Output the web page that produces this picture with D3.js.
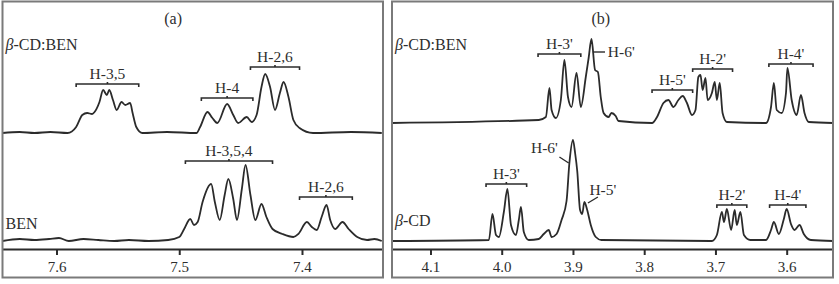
<!DOCTYPE html>
<html>
<head>
<meta charset="utf-8">
<script src="https://cdn.jsdelivr.net/npm/d3@7"></script>
<style>
  body { margin: 0; background: #fff; }
</style>
</head>
<body>
<svg id="chart" width="839" height="284"></svg>
<script>
// ---- data: [ppm, intensity above baseline] ----
const ticksA = [7.6, 7.5, 7.4];
const ticksB = [4.1, 4.0, 3.9, 3.8, 3.7, 3.6];

// panel (a) β-CD:BEN complex
const complexA = [
  [7.644, 0], [7.630, 1], [7.618, 0], [7.605, 1], [7.591, 0], [7.584, 6], [7.579, 18],
  [7.575, 20], [7.571, 19], [7.569, 21], [7.565, 31], [7.562, 43], [7.559, 38],
  [7.557, 43], [7.554, 33], [7.551, 23], [7.547, 31], [7.544, 28], [7.540, 30],
  [7.538, 20], [7.535, 6], [7.530, 0], [7.510, 1], [7.486, 0], [7.483, 6], [7.477, 21],
  [7.473, 15], [7.469, 10], [7.461, 29], [7.456, 18], [7.452, 10], [7.445, 16],
  [7.441, 11], [7.437, 18], [7.433, 46], [7.430, 59], [7.426, 46], [7.422, 23],
  [7.418, 40], [7.415, 51], [7.411, 36], [7.407, 13], [7.402, 5], [7.391, 0],
  [7.360, 1], [7.335, 0]
];
// panel (a) free BEN
const freeBen = [
  [7.644, -1], [7.630, 1], [7.618, 0], [7.606, 1], [7.598, 2], [7.590, -1], [7.578, 1],
  [7.566, 0], [7.553, -1], [7.541, 0], [7.525, -1], [7.509, 0], [7.500, 3],
  [7.496, 11], [7.491, 21], [7.488, 15], [7.485, 18], [7.481, 38], [7.474, 56],
  [7.471, 38], [7.467, 20], [7.463, 45], [7.460, 61], [7.456, 41], [7.453, 20],
  [7.449, 51], [7.446, 75], [7.442, 45], [7.438, 20], [7.433, 36], [7.429, 23],
  [7.424, 11], [7.416, 6], [7.407, 3], [7.403, 6], [7.396, 18], [7.392, 13],
  [7.388, 10], [7.384, 23], [7.380, 35], [7.377, 20], [7.373, 11], [7.367, 18],
  [7.362, 11], [7.355, 3], [7.347, 0], [7.341, 1], [7.335, -1]
];
// panel (b) β-CD:BEN complex
const complexB = [
  [4.154, 0], [3.948, 3], [3.938, 6], [3.933, 35], [3.930, 13], [3.924, 5], [3.917, 23],
  [3.912, 63], [3.907, 26], [3.902, 16], [3.895, 50], [3.889, 16], [3.882, 46],
  [3.878, 65], [3.874, 84], [3.869, 53], [3.865, 51], [3.861, 26], [3.857, 10],
  [3.850, 6], [3.846, 10], [3.840, 7], [3.836, 2], [3.789, 0], [3.782, 6], [3.773, 20],
  [3.766, 23], [3.759, 16], [3.752, 23], [3.746, 27], [3.740, 20], [3.733, 8],
  [3.728, 13], [3.724, 46], [3.721, 48], [3.718, 33], [3.714, 45], [3.711, 23],
  [3.705, 30], [3.701, 41], [3.698, 23], [3.694, 40], [3.690, 10], [3.684, 1],
  [3.629, 0], [3.622, 16], [3.618, 40], [3.614, 13], [3.607, 10], [3.601, 30],
  [3.599, 55], [3.593, 23], [3.586, 8], [3.580, 28], [3.575, 10], [3.569, 1], [3.535, 0]
];
// panel (b) free β-CD
const freeCd = [
  [4.154, 0], [4.018, 1], [4.013, 27], [4.008, 6], [4.004, 4], [3.997, 29], [3.992, 52],
  [3.987, 16], [3.980, 6], [3.976, 21], [3.973, 34], [3.969, 9], [3.962, 1],
  [3.948, 2], [3.941, 7], [3.934, 11], [3.930, 4], [3.923, 7], [3.916, 21],
  [3.909, 40], [3.905, 78], [3.900, 101], [3.897, 88], [3.894, 70], [3.890, 31],
  [3.887, 27], [3.884, 39], [3.880, 31], [3.875, 16], [3.868, 4], [3.860, 1],
  [3.705, 0], [3.698, 6], [3.691, 29], [3.688, 19], [3.684, 32], [3.678, 11],
  [3.673, 31], [3.670, 16], [3.665, 29], [3.660, 6], [3.651, 1], [3.629, 1],
  [3.622, 11], [3.618, 19], [3.611, 7], [3.604, 22], [3.600, 32], [3.594, 17],
  [3.589, 11], [3.582, 16], [3.576, 7], [3.566, 1], [3.535, 0]
];

// bracket labels: [text, ppm from, ppm to, level above baseline]
const bracketsA1 = [["H-3,5", 7.584, 7.533, 49], ["H-4", 7.482, 7.440, 35], ["H-2,6", 7.442, 7.402, 66]];
const bracketsA2 = [["H-3,5,4", 7.495, 7.424, 79], ["H-2,6", 7.402, 7.359, 43]];
const bracketsB1 = [["H-3'", 3.949, 3.889, 69], ["H-5'", 3.789, 3.732, 33], ["H-2'", 3.732, 3.676, 54], ["H-4'", 3.625, 3.563, 59]];
const bracketsB2 = [["H-3'", 4.022, 3.965, 57], ["H-2'", 3.698, 3.656, 36], ["H-4'", 3.624, 3.573, 36]];
// leader labels: [text, text ppm, text level, line from ppm, level, line to ppm, level, anchor]
const leadersB1 = [["H-6'", 3.851, 66, 3.872, 71, 3.855, 71, "start"]];
const leadersB2 = [["H-6'", 3.940, 88, 3.919, 84, 3.906, 78, "middle"], ["H-5'", 3.858, 46, 3.865, 44, 3.879, 38, "middle"]];

const ink = "#2b2b2b";
const txtInk = "#2e2e2e";
const serif = '"Liberation Serif"';
const svg = d3.select("#chart");
svg.append("rect").attr("width", 839).attr("height", 284).attr("fill", "#fff");

const axisY = 249;
const yInt = d3.scaleLinear().domain([0, 100]).range([0, -100]);

function drawPanel(opts) {
  const { left, right, domain, ticks, letter, letterPpm, traces } = opts;
  const x = d3.scaleLinear().domain(domain).range([left, right]);
  const g = svg.append("g");
  const clipId = "clip" + letter;
  svg.append("clipPath").attr("id", clipId)
    .append("rect").attr("x", left).attr("y", 0).attr("width", right - left).attr("height", 284);

  const line = d3.line()
    .x(d => x(d[0]))
    .y(d => yInt(d[1]))
    .curve(d3.curveMonotoneX);

  traces.forEach(t => {
    // clip in page coordinates, so the clipped group is not translated itself
    const cg = g.append("g").attr("clip-path", `url(#${clipId})`);
    cg.append("path")
      .datum(t.data)
      .attr("transform", `translate(0,${t.base})`)
      .attr("fill", "none")
      .attr("stroke", ink)
      .attr("stroke-width", 1.8)
      .attr("stroke-linejoin", "round")
      .attr("d", line);

    const tg = g.append("g").attr("transform", `translate(0,${t.base})`);

    // name
    const name = tg.append("text")
      .attr("x", left + 3).attr("y", yInt(t.nameLevel))
      .attr("font-family", serif)
      .attr("font-size", 16).attr("fill", txtInk);
    if (t.name.startsWith("β")) {
      name.append("tspan").attr("font-style", "italic").text("β");
      name.append("tspan").text(t.name.slice(1));
    } else {
      name.text(t.name);
    }

    // brackets
    t.brackets.forEach(b => {
      const [txt, p0, p1, lev] = b;
      const x0 = x(p0), x1 = x(p1), yy = yInt(lev), xm = (x0 + x1) / 2;
      tg.append("path")
        .attr("d", `M${x0},${yy + 3}V${yy}H${x1}V${yy + 3}M${xm},${yy}V${yy - 2}`)
        .attr("fill", "none").attr("stroke", ink).attr("stroke-width", 1.6);
      tg.append("text").attr("x", xm).attr("y", yy - 5)
        .attr("text-anchor", "middle").attr("font-size", 15.5).attr("fill", txtInk)
        .attr("font-family", serif)
        .text(txt);
    });

    // leader labels
    (t.leaders || []).forEach(l => {
      const [txt, tp, tl, p0, l0, p1, l1, anchor] = l;
      tg.append("line")
        .attr("x1", x(p0)).attr("y1", yInt(l0)).attr("x2", x(p1)).attr("y2", yInt(l1))
        .attr("stroke", ink).attr("stroke-width", 1.4);
      tg.append("text").attr("x", x(tp)).attr("y", yInt(tl))
        .attr("text-anchor", anchor).attr("font-size", 15.5).attr("fill", txtInk)
        .attr("font-family", serif)
        .text(txt);
    });
  });

  // axis
  const axis = g.append("g")
    .attr("transform", `translate(0,${axisY})`)
    .call(d3.axisBottom(x).tickValues(ticks).tickSize(6).tickSizeOuter(0)
      .tickPadding(6).tickFormat(d3.format(".1f")));
  axis.attr("font-family", serif);
  axis.select(".domain").attr("stroke", ink).attr("stroke-width", 2);
  axis.selectAll(".tick line").attr("stroke", ink).attr("stroke-width", 2);
  axis.selectAll(".tick text")
    .attr("font-family", serif)
    .attr("font-size", 15).attr("fill", txtInk);

  // panel letter
  g.append("text").attr("x", x(letterPpm)).attr("y", 24)
    .attr("text-anchor", "middle").attr("font-size", 16).attr("fill", txtInk)
    .attr("font-family", serif)
    .text(`(${letter})`);

  // frame
  g.append("rect")
    .attr("x", left).attr("y", 1.5).attr("width", right - left).attr("height", 276)
    .attr("fill", "none").attr("stroke", "#7a7a7a").attr("stroke-width", 2);
}

drawPanel({
  left: 2.5, right: 383, domain: [7.644, 7.334], ticks: ticksA, letter: "a", letterPpm: 7.505,
  traces: [
    { data: complexA, base: 133, name: "β-CD:BEN", nameLevel: 83, brackets: bracketsA1 },
    { data: freeBen, base: 240, name: "BEN", nameLevel: 11, brackets: bracketsA2 }
  ]
});

drawPanel({
  left: 392, right: 833, domain: [4.154, 3.535], ticks: ticksB, letter: "b", letterPpm: 3.861,
  traces: [
    { data: complexB, base: 123, name: "β-CD:BEN", nameLevel: 73, brackets: bracketsB1, leaders: leadersB1 },
    { data: freeCd, base: 241, name: "β-CD", nameLevel: 15, brackets: bracketsB2, leaders: leadersB2 }
  ]
});
</script>
</body>
</html>
